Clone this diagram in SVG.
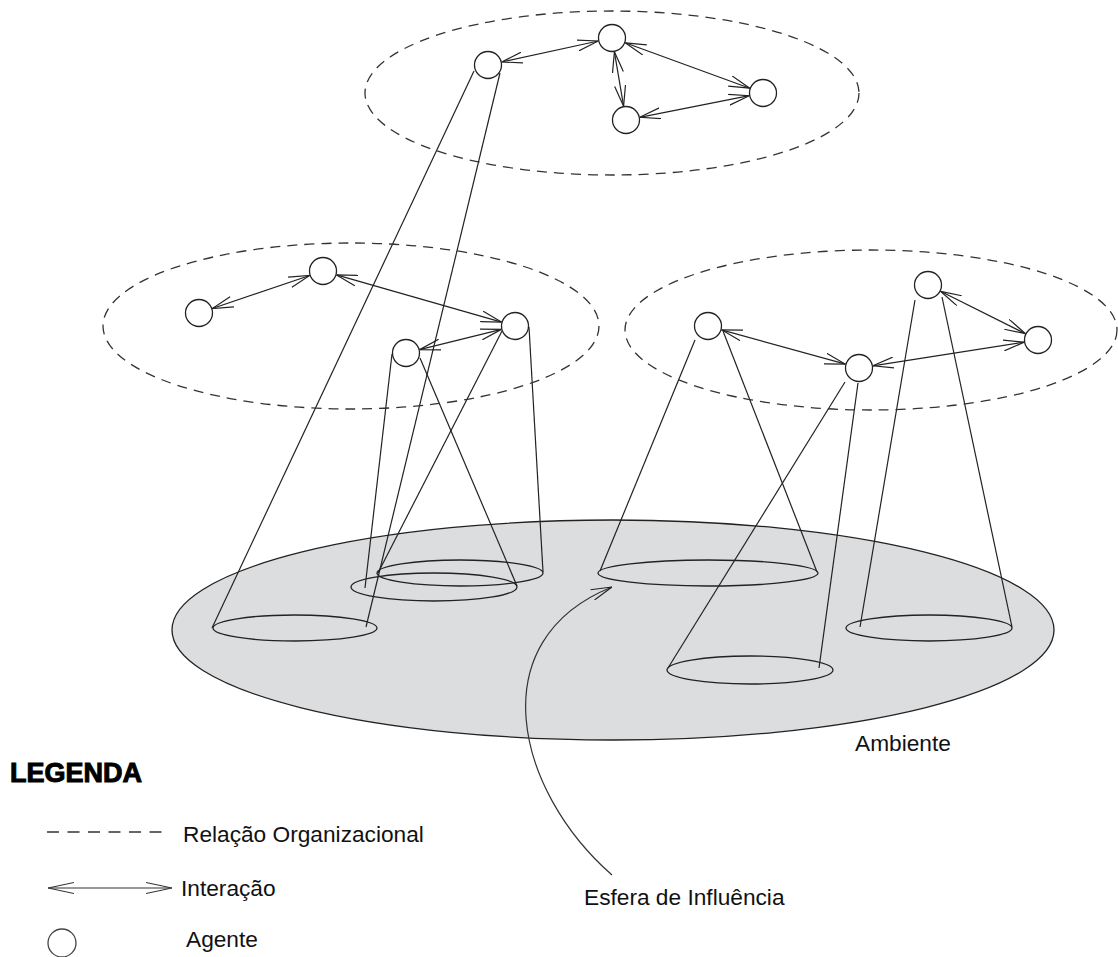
<svg xmlns="http://www.w3.org/2000/svg" width="1118" height="957" viewBox="0 0 1118 957">
<style>
.org{fill:none;stroke:#333;stroke-width:1.3;stroke-dasharray:10 7}
.ag{fill:#fff;stroke:#222;stroke-width:1.3}
.cone{fill:none;stroke:#222;stroke-width:1.2}
.base{fill:none;stroke:#222;stroke-width:1.3}
.ia{fill:none;stroke:#222;stroke-width:1.2;marker-start:url(#ah);marker-end:url(#ah)}
.lbl{font-family:"Liberation Sans",Arial,sans-serif;font-size:22.7px;fill:#111}
</style>
<defs>
<marker id="ah" viewBox="0 0 21 12" refX="21" refY="6" markerWidth="21" markerHeight="12" markerUnits="userSpaceOnUse" orient="auto-start-reverse">
<path d="M0,0.5 L21,6 L0,11.5" fill="none" stroke="#222" stroke-width="1.2"/>
</marker>
<marker id="ahL" viewBox="0 0 26 14" refX="26" refY="7" markerWidth="26" markerHeight="14" markerUnits="userSpaceOnUse" orient="auto-start-reverse">
<path d="M0,1.5 L26,7 L0,12.5" fill="none" stroke="#333" stroke-width="1.2"/>
</marker>
</defs>
<rect width="1118" height="957" fill="#fff"/>

<g id="ambiente">
<ellipse cx="613" cy="630" rx="441" ry="110" fill="#dcdddf" stroke="#222" stroke-width="1.3"/>
<text class="lbl" x="855" y="751">Ambiente</text>
</g>

<g id="esferas">
<ellipse class="base" cx="295" cy="628" rx="82" ry="13"/>
<ellipse class="base" cx="434" cy="587" rx="83" ry="14"/>
<ellipse class="base" cx="460" cy="573" rx="83" ry="13"/>
<ellipse class="base" cx="708" cy="573" rx="110" ry="13"/>
<ellipse class="base" cx="750" cy="670" rx="83" ry="14"/>
<ellipse class="base" cx="929" cy="628" rx="83" ry="13"/>
</g>

<g id="connectors">
<line class="cone" x1="474" y1="71" x2="212" y2="628"/>
<line class="cone" x1="500" y1="73" x2="366" y2="627"/>
<line class="cone" x1="392" y1="354" x2="365" y2="588"/>
<line class="cone" x1="420" y1="358" x2="517" y2="586"/>
<line class="cone" x1="502" y1="331" x2="378" y2="573"/>
<line class="cone" x1="529" y1="327" x2="543" y2="572"/>
<line class="cone" x1="695" y1="340" x2="600" y2="571"/>
<line class="cone" x1="723" y1="331" x2="817" y2="572"/>
<line class="cone" x1="845" y1="382" x2="668" y2="668"/>
<line class="cone" x1="858" y1="383" x2="819" y2="668"/>
<line class="cone" x1="915" y1="300" x2="860" y2="627"/>
<line class="cone" x1="942" y1="297" x2="1012" y2="627"/>
<line class="ia" x1="501.7" y1="62" x2="598.3" y2="41"/>
<line class="ia" x1="625.2" y1="42.8" x2="749.8" y2="88.2"/>
<line class="ia" x1="614.4" y1="51.8" x2="623.6" y2="106.2"/>
<line class="ia" x1="639.7" y1="117.3" x2="749.3" y2="95.7"/>
<line class="ia" x1="212.3" y1="308.5" x2="309.7" y2="275.5"/>
<line class="ia" x1="336.5" y1="274.9" x2="501.5" y2="322.1"/>
<line class="ia" x1="419.6" y1="349.6" x2="501.4" y2="329.4"/>
<line class="ia" x1="721.5" y1="329.8" x2="845.5" y2="364.2"/>
<line class="ia" x1="940.5" y1="291.3" x2="1025.5" y2="333.7"/>
<line class="ia" x1="872.8" y1="365.8" x2="1024.2" y2="342.2"/>
<path d="M612,875 C515,790 480,640 612,587" fill="none" stroke="#333" stroke-width="1.2" marker-end="url(#ah)"/>
</g>

<g id="org-top"><ellipse class="org" cx="612" cy="93" rx="247" ry="82"/></g>
<g id="org-left"><ellipse class="org" cx="351" cy="326" rx="248" ry="83"/></g>
<g id="org-right"><ellipse class="org" cx="871" cy="330" rx="246" ry="80"/></g>

<g id="agent-a1"><circle class="ag" cx="488" cy="65" r="13.5"/></g>
<g id="agent-a2"><circle class="ag" cx="612" cy="38" r="13.5"/></g>
<g id="agent-a3"><circle class="ag" cx="763" cy="93" r="13.5"/></g>
<g id="agent-a4"><circle class="ag" cx="626" cy="120" r="13.5"/></g>
<g id="agent-b1"><circle class="ag" cx="199" cy="313" r="13.5"/></g>
<g id="agent-b2"><circle class="ag" cx="323" cy="271" r="13.5"/></g>
<g id="agent-b3"><circle class="ag" cx="515" cy="326" r="13.5"/></g>
<g id="agent-b4"><circle class="ag" cx="406" cy="353" r="13.5"/></g>
<g id="agent-c1"><circle class="ag" cx="708" cy="326" r="13.5"/></g>
<g id="agent-c2"><circle class="ag" cx="859" cy="368" r="13.5"/></g>
<g id="agent-c3"><circle class="ag" cx="928" cy="285" r="13.5"/></g>
<g id="agent-c4"><circle class="ag" cx="1038" cy="340" r="13.5"/></g>

<g id="esfera-label"><text class="lbl" x="584" y="905">Esfera de Influência</text></g>

<g id="legenda">
<text x="10" y="782" font-family="'Liberation Sans',Arial,sans-serif" font-size="27" font-weight="bold" fill="#000" stroke="#000" stroke-width="1">LEGENDA</text>
<line x1="47" y1="832" x2="170" y2="832" stroke="#333" stroke-width="1.3" stroke-dasharray="12 8.5"/>
<text class="lbl" x="183" y="842">Relação Organizacional</text>
<line x1="48" y1="888" x2="172" y2="888" stroke="#333" stroke-width="1.2" marker-start="url(#ahL)" marker-end="url(#ahL)"/>
<text class="lbl" x="181" y="896">Interação</text>
<circle cx="62" cy="943" r="14" fill="#fff" stroke="#444" stroke-width="1.3"/>
<text class="lbl" x="186" y="947">Agente</text>
</g>
</svg>
